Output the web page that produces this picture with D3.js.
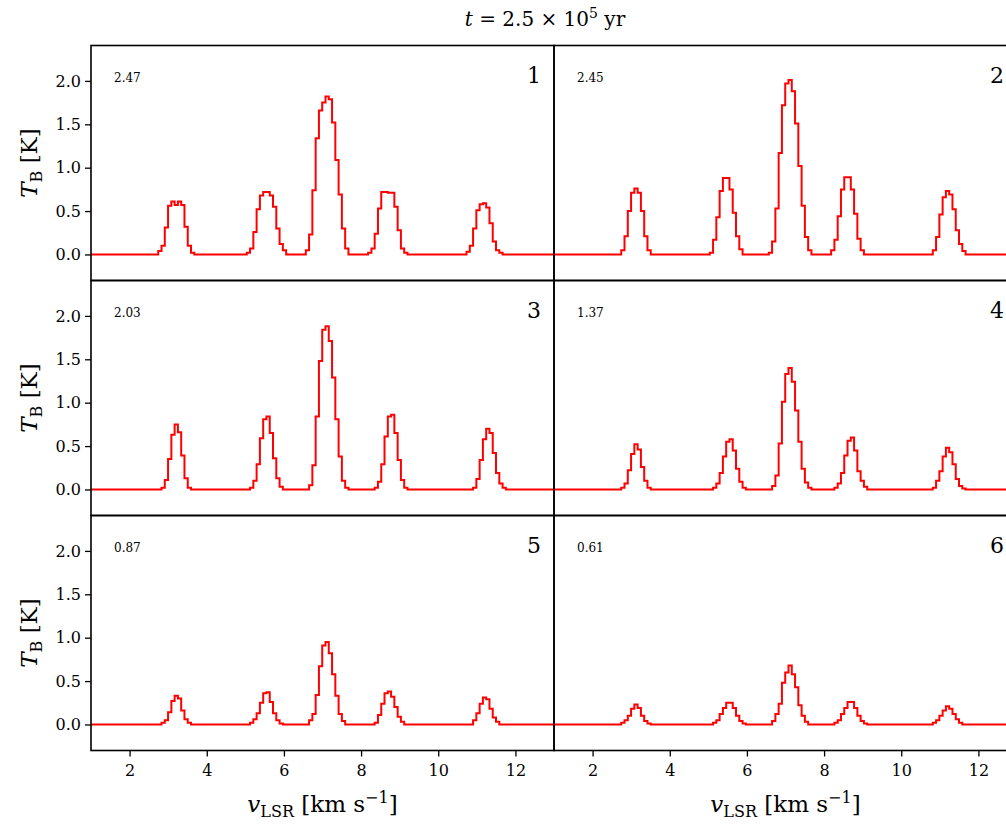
<!DOCTYPE html>
<html>
<head>
<meta charset="utf-8">
<title>Spectra grid</title>
<script src="https://d3js.org/d3.v7.min.js"></script>
<style>
body { margin: 0; background: #fff; }
text { font-family: "DejaVu Serif", "Liberation Serif", serif; fill: #000; }
</style>
</head>
<body>
<svg width="1006" height="824"></svg>
<script>

// channel grid (km/s)
var vMin = 1.0, vMax = 13.0, dv = 0.085;

var velTicks = [2, 4, 6, 8, 10, 12];
var tbTicks = [0.0, 0.5, 1.0, 1.5, 2.0];
var peakMax = ["2.47", "2.45", "2.03", "1.37", "0.87", "0.61"];
var panelIds = ["1", "2", "3", "4", "5", "6"];

// each line: [left edge of first channel, channel values in K]
var spec1 = [
  [2.72, [0.04, 0.10, 0.31, 0.56, 0.61, 0.57, 0.61, 0.57, 0.32, 0.10, 0.02]],
  [5.07, [0.02, 0.07, 0.26, 0.52, 0.68, 0.72, 0.72, 0.68, 0.55, 0.30, 0.12, 0.05]],
  [6.60, [0.05, 0.23, 0.74, 1.34, 1.66, 1.75, 1.82, 1.79, 1.52, 1.09, 0.69, 0.30, 0.07]],
  [8.22, [0.02, 0.07, 0.24, 0.53, 0.72, 0.72, 0.71, 0.71, 0.55, 0.28, 0.07, 0.02]],
  [10.76, [0.03, 0.10, 0.30, 0.51, 0.58, 0.59, 0.54, 0.36, 0.15, 0.05, 0.02]]
];
var spec2 = [
  [2.72, [0.05, 0.21, 0.50, 0.71, 0.76, 0.71, 0.50, 0.21, 0.05]],
  [5.05, [0.02, 0.17, 0.43, 0.73, 0.88, 0.88, 0.75, 0.48, 0.21, 0.06]],
  [6.56, [0.02, 0.15, 0.53, 1.17, 1.72, 1.97, 2.01, 1.88, 1.51, 1.02, 0.56, 0.20, 0.05]],
  [8.22, [0.05, 0.17, 0.44, 0.75, 0.89, 0.89, 0.75, 0.47, 0.18, 0.05]],
  [10.78, [0.05, 0.20, 0.46, 0.66, 0.73, 0.69, 0.52, 0.28, 0.12, 0.04]]
];
var spec3 = [
  [2.80, [0.02, 0.11, 0.35, 0.63, 0.75, 0.66, 0.39, 0.13, 0.02]],
  [5.14, [0.02, 0.10, 0.29, 0.59, 0.81, 0.84, 0.65, 0.36, 0.13, 0.03]],
  [6.68, [0.05, 0.28, 0.84, 1.48, 1.84, 1.88, 1.71, 1.29, 0.81, 0.38, 0.10, 0.02]],
  [8.32, [0.02, 0.09, 0.29, 0.61, 0.84, 0.86, 0.65, 0.34, 0.11, 0.02]],
  [10.87, [0.02, 0.12, 0.34, 0.58, 0.70, 0.65, 0.42, 0.19, 0.07, 0.02]]
];
var spec4 = [
  [2.77, [0.02, 0.07, 0.22, 0.41, 0.52, 0.46, 0.26, 0.10, 0.02]],
  [5.09, [0.02, 0.07, 0.19, 0.38, 0.55, 0.58, 0.45, 0.24, 0.09, 0.02]],
  [6.65, [0.04, 0.16, 0.53, 1.01, 1.33, 1.40, 1.24, 0.91, 0.55, 0.24, 0.08, 0.02]],
  [8.28, [0.02, 0.07, 0.19, 0.39, 0.56, 0.60, 0.45, 0.21, 0.10, 0.03]],
  [10.81, [0.02, 0.10, 0.21, 0.38, 0.48, 0.43, 0.29, 0.12, 0.04, 0.01]]
];
var spec5 = [
  [2.83, [0.02, 0.05, 0.14, 0.27, 0.33, 0.30, 0.16, 0.06, 0.02]],
  [5.14, [0.02, 0.06, 0.13, 0.25, 0.36, 0.37, 0.26, 0.13, 0.05, 0.01]],
  [6.68, [0.05, 0.12, 0.34, 0.67, 0.91, 0.95, 0.82, 0.58, 0.33, 0.12, 0.04]],
  [8.35, [0.02, 0.11, 0.24, 0.36, 0.38, 0.32, 0.20, 0.09, 0.03]],
  [10.87, [0.05, 0.13, 0.24, 0.31, 0.29, 0.18, 0.08, 0.03]]
];
var spec6 = [
  [2.77, [0.02, 0.05, 0.10, 0.18, 0.23, 0.19, 0.10, 0.04, 0.01]],
  [5.09, [0.02, 0.05, 0.12, 0.19, 0.25, 0.25, 0.19, 0.10, 0.04, 0.01]],
  [6.65, [0.04, 0.12, 0.24, 0.48, 0.60, 0.68, 0.58, 0.43, 0.22, 0.10, 0.03]],
  [8.28, [0.02, 0.05, 0.12, 0.19, 0.26, 0.26, 0.19, 0.10, 0.04, 0.01]],
  [10.81, [0.02, 0.05, 0.10, 0.16, 0.21, 0.18, 0.12, 0.06, 0.02]]
];
var spectra = [spec1, spec2, spec3, spec4, spec5, spec6];

var svg = d3.select("svg");
var left = 91, top0 = 45.5, pw = 463, ph = 235;
var serif = "'DejaVu Serif', 'Liberation Serif', serif";

var x = d3.scaleLinear().domain([vMin, vMax]).range([0, pw]);
var y = d3.scaleLinear().domain([-0.30, 2.408]).range([ph, 0]);

// expand line segments onto the channel grid
var nChan = Math.ceil((vMax - vMin) / dv) + 2;
function channels(segs) {
  var t = d3.range(nChan).map(function() { return 0; });
  segs.forEach(function(s) {
    var i0 = Math.round((s[0] + dv / 2 - vMin) / dv);
    s[1].forEach(function(val, k) { t[i0 + k] = val; });
  });
  return t.map(function(val, i) { return {v: vMin + i * dv, t: val}; });
}

var line = d3.line()
    .curve(d3.curveStep)
    .x(function(d) { return x(d.v); })
    .y(function(d) { return y(d.t); });

spectra.forEach(function(segs, p) {
  var col = p % 2, row = Math.floor(p / 2);
  var g = svg.append("g")
      .attr("transform", "translate(" + (left + col * pw) + "," + (top0 + row * ph) + ")");

  g.append("clipPath").attr("id", "clip" + p)
    .append("rect").attr("width", pw).attr("height", ph);

  g.append("path")
      .datum(channels(segs))
      .attr("clip-path", "url(#clip" + p + ")")
      .attr("fill", "none")
      .attr("stroke", "#ff0000")
      .attr("stroke-width", 2)
      .attr("stroke-linejoin", "miter")
      .attr("d", line);

  g.append("rect")
      .attr("width", pw).attr("height", ph)
      .attr("fill", "none").attr("stroke", "#000").attr("stroke-width", 1.6);

  g.append("text")
      .attr("x", 23).attr("y", 36)
      .style("font-size", "12px")
      .text(peakMax[p]);

  g.append("text")
      .attr("x", pw - 13).attr("y", 37)
      .attr("text-anchor", "end")
      .style("font-size", "22px")
      .text(panelIds[p]);

  if (col === 0) {
    var ya = g.append("g").call(d3.axisLeft(y).tickValues(tbTicks).tickSize(6).tickPadding(4).tickFormat(d3.format(".1f")));
    ya.select(".domain").remove();
    ya.selectAll("line").attr("stroke-width", 1.3);
    ya.selectAll("text").style("font-size", "16px").style("font-family", serif);

    var yl = g.append("text")
        .attr("transform", "translate(" + (-54) + "," + (ph / 2) + ") rotate(-90)")
        .attr("text-anchor", "middle")
        .style("font-size", "23px");
    yl.append("tspan").style("font-style", "italic").text("T");
    yl.append("tspan").attr("dy", 5).style("font-size", "16px").text("B");
    yl.append("tspan").attr("dy", -5).text(" [K]");
  }

  if (row === 2) {
    var xa = g.append("g").attr("transform", "translate(0," + ph + ")")
        .call(d3.axisBottom(x).tickValues(velTicks).tickSize(6).tickPadding(8).tickFormat(d3.format("d")));
    xa.select(".domain").remove();
    xa.selectAll("line").attr("stroke-width", 1.3);
    xa.selectAll("text").style("font-size", "16px").style("font-family", serif);

    var xl = g.append("text")
        .attr("x", pw / 2).attr("y", ph + 61)
        .attr("text-anchor", "middle")
        .style("font-size", "23px");
    xl.append("tspan").style("font-style", "italic").text("v");
    xl.append("tspan").attr("dy", 5).style("font-size", "16px").text("LSR");
    xl.append("tspan").attr("dy", -5).text(" [km s");
    xl.append("tspan").attr("dy", -9).style("font-size", "16px").text("\u22121");
    xl.append("tspan").attr("dy", 9).text("]");
  }
});

var title = svg.append("text")
    .attr("x", 545).attr("y", 26)
    .attr("text-anchor", "middle")
    .style("font-size", "20px");
title.append("tspan").style("font-style", "italic").text("t");
title.append("tspan").text(" = 2.5 \u00d7 10");
title.append("tspan").attr("dy", -8).style("font-size", "14px").text("5");
title.append("tspan").attr("dy", 8).text(" yr");

</script>
</body>
</html>
